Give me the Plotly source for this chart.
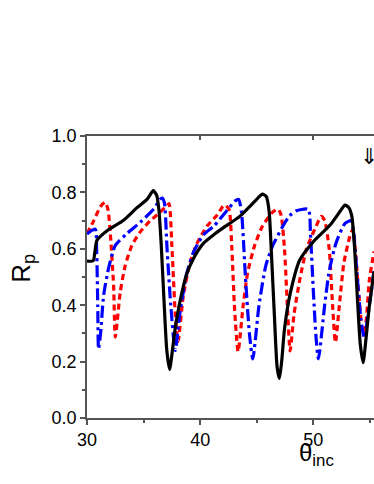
import plotly.graph_objects as go

# ---- data ----
black_x = [30.0, 30.55, 30.7, 30.88, 31.8, 33.2, 34.4, 35.3, 35.85, 36.15, 36.35, 36.55, 36.8, 37.05, 37.3,
           37.55, 37.8, 38.2, 38.8, 39.4, 40.3, 41.2, 42.06, 43.5, 44.5, 45.1, 45.5, 45.85, 46.1, 46.3, 46.55,
           46.8, 47.0, 47.2, 47.45, 47.95, 48.8, 50.0, 51.5, 52.4, 52.8, 53.15, 53.4, 53.65, 53.9, 54.15, 54.4,
           54.65, 54.9, 55.36]
black_y = [0.556, 0.558, 0.59, 0.63, 0.665, 0.70, 0.745, 0.775, 0.806, 0.79, 0.74, 0.62, 0.42, 0.24, 0.172,
           0.24, 0.32, 0.41, 0.51, 0.565, 0.62, 0.65, 0.675, 0.715, 0.755, 0.78, 0.794, 0.785, 0.73, 0.58, 0.37,
           0.18, 0.14, 0.2, 0.315, 0.44, 0.56, 0.625, 0.685, 0.735, 0.755, 0.745, 0.715, 0.6, 0.42, 0.26, 0.196,
           0.28, 0.38, 0.52]

blue_x = [30.0, 30.73, 30.85, 30.95, 31.02, 31.2, 31.47, 31.9, 32.5, 33.5, 34.7, 35.9, 36.47, 36.65, 36.85,
          37.06, 37.4, 37.8, 38.2, 38.8, 39.4, 40.3, 41.2, 42.35, 43.1, 43.4, 43.65, 44.0, 44.35, 44.65, 45.2,
          45.8, 46.4, 47.3, 47.9, 48.5, 49.55, 49.75, 50.0, 50.25, 50.45, 51.0, 51.4, 52.0, 52.8, 53.35, 53.55,
          53.9, 54.2, 54.5, 54.95, 55.36]
blue_y = [0.653, 0.67, 0.6, 0.4, 0.245, 0.3, 0.435, 0.53, 0.612, 0.653, 0.694, 0.741, 0.776, 0.78, 0.76,
          0.61, 0.4, 0.24, 0.37, 0.51, 0.587, 0.65, 0.68, 0.735, 0.77, 0.775, 0.73, 0.5, 0.3, 0.21, 0.40,
          0.54, 0.61, 0.68, 0.717, 0.735, 0.74, 0.65, 0.45, 0.28, 0.21, 0.40, 0.52, 0.62, 0.69, 0.70, 0.66,
          0.49, 0.35, 0.285, 0.40, 0.52]

red_x = [30.0, 30.6, 31.2, 31.6, 31.85, 32.05, 32.35, 32.5, 32.94, 33.38, 33.97, 34.7, 35.6, 36.47, 37.06,
         37.25, 37.5, 37.8, 38.05, 38.5, 39.1, 39.7, 40.6, 41.5, 42.0, 42.2, 42.55, 42.8, 43.05, 43.35, 43.8,
         44.2, 44.8, 45.5, 46.4, 46.9, 47.15, 47.45, 47.7, 47.95, 48.3, 48.8, 49.4, 50.24, 50.7, 51.0, 51.4,
         51.7, 51.95, 52.3, 52.7, 53.2, 53.5, 53.8, 54.1, 54.36, 54.65, 54.95, 55.36]
red_y = [0.653, 0.70, 0.75, 0.765, 0.74, 0.66, 0.47, 0.287, 0.447, 0.541, 0.612, 0.66, 0.70, 0.73, 0.753,
         0.76, 0.61, 0.37, 0.272, 0.43, 0.55, 0.617, 0.68, 0.72, 0.75, 0.755, 0.74, 0.6, 0.38, 0.236, 0.40,
         0.516, 0.61, 0.68, 0.73, 0.74, 0.72, 0.6, 0.4, 0.238, 0.37, 0.49, 0.60, 0.68, 0.715, 0.70, 0.6,
         0.4, 0.268, 0.40, 0.55, 0.64, 0.67, 0.55, 0.4, 0.30, 0.34, 0.49, 0.59]

x_ticks = [30, 40, 50]
y_ticks = [0.0, 0.2, 0.4, 0.6, 0.8, 1.0]
x_range = [30, 55.36]
y_range = [0, 1.0]

FONT = "Liberation Sans, Arial, sans-serif"
AX = "#555555"

fig = go.Figure()
fig.add_trace(go.Scatter(x=red_x, y=red_y, mode="lines",
                         line=dict(color="#ff0000", width=3.2, dash="6px,4px", shape="spline", smoothing=0.6)))
fig.add_trace(go.Scatter(x=blue_x, y=blue_y, mode="lines",
                         line=dict(color="#0000ff", width=3.2, dash="12px,4px,3px,4px", shape="spline", smoothing=0.6)))
fig.add_trace(go.Scatter(x=black_x, y=black_y, mode="lines",
                         line=dict(color="#000000", width=3.2, shape="spline", smoothing=0.6)))
# invisible trace on top axis so it is drawn
fig.add_trace(go.Scatter(x=x_range, y=[None, None], xaxis="x2", mode="lines", showlegend=False, hoverinfo="skip"))

fig.update_layout(
    width=374, height=484,
    margin=dict(l=87, r=0, t=136, b=66, autoexpand=False),
    paper_bgcolor="white", plot_bgcolor="white",
    showlegend=False,
    font=dict(family=FONT, size=18, color="black"),
    xaxis=dict(range=x_range, tickvals=x_ticks, ticks="outside", ticklen=5, tickwidth=1.5, tickcolor=AX,
               showline=True, linecolor=AX, linewidth=1.5, showgrid=False, zeroline=False,
               tickfont=dict(size=18, family=FONT, color="black"),
               minor=dict(dtick=5, tick0=30, ticks="outside", ticklen=3, tickwidth=1.5, tickcolor=AX, showgrid=False)),
    xaxis2=dict(range=x_range, overlaying="x", side="top", matches="x", tickvals=x_ticks, ticks="inside",
                ticklen=4, tickwidth=1.5, tickcolor=AX, showline=True, linecolor=AX, linewidth=1.5,
                showticklabels=False, showgrid=False, zeroline=False),
    yaxis=dict(range=y_range, tickvals=y_ticks, tickformat=".1f", ticks="outside", ticklen=5, tickwidth=1.5,
               tickcolor=AX, showline=True, linecolor=AX, linewidth=1.5, showgrid=False, zeroline=False,
               tickfont=dict(size=18, family=FONT, color="black"),
               minor=dict(dtick=0.1, tick0=0, ticks="outside", ticklen=3, tickwidth=1.5, tickcolor=AX, showgrid=False)),
)

fig.add_annotation(xref="paper", yref="paper", x=0.798, y=-0.128, text="θ<sub>inc</sub>", showarrow=False,
                   font=dict(size=24, family=FONT, color="black"), xanchor="center", yanchor="middle")
fig.add_annotation(xref="paper", yref="paper", x=-0.226, y=0.53, text="R<sub>p</sub>", showarrow=False,
                   textangle=-90, font=dict(size=26, family=FONT, color="black"), xanchor="center", yanchor="middle")
fig.add_annotation(xref="paper", yref="paper", x=0.982, y=0.927, text="⇓", showarrow=False,
                   font=dict(size=22, family="DejaVu Sans", color="black"), xanchor="center", yanchor="middle")

# remove the default 8px page margin so the figure fills the window exactly; hide the toolbar
fig.write_html("out.html", config={"displayModeBar": False},
               post_script="document.body.style.margin='0';")
